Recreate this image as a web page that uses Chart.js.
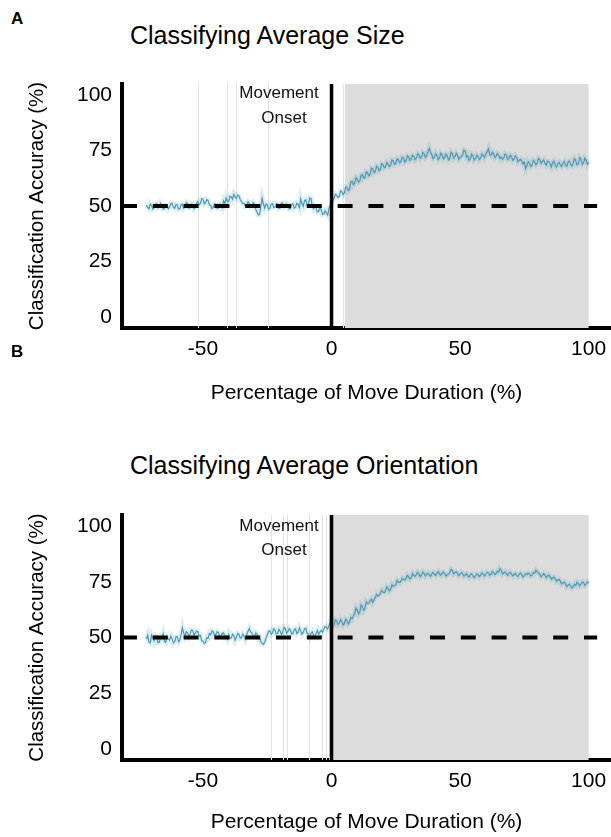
<!DOCTYPE html>
<html><head><meta charset="utf-8">
<script src="https://cdn.jsdelivr.net/npm/chart.js@4.4.1/dist/chart.umd.min.js"></script>
<style>
body{margin:0;background:#fff;width:611px;height:837px;position:relative;overflow:hidden;font-family:"Liberation Sans",Arial,sans-serif;color:#000;}
.letter{position:absolute;font-weight:bold;font-size:17px;line-height:18px;}
.title{position:absolute;font-size:25px;line-height:30px;white-space:nowrap;}
canvas{position:absolute;left:0;}
</style></head><body>
<div class="letter" style="left:11px;top:10px">A</div>
<div class="title" style="left:130px;top:20px">Classifying Average Size</div>
<canvas id="cA" width="611" height="420" style="top:0"></canvas>
<div class="letter" style="left:11px;top:343px">B</div>
<div class="title" style="left:130px;top:450px">Classifying Average Orientation</div>
<canvas id="cB" width="611" height="417" style="top:420px"></canvas>
<script>
// ---- data ----
const xStart = -72, xStep = 0.5; // time grid (% of move duration)
const sizeAccuracy = [
 50.5,49.3,48.8,50.9,50.2,48.6,49.1,50.8,51.0,49.2,49.4,51.3,50.6,48.7,48.9,50.4,50.3,48.8,49.6,51.1,
 51.2,49.4,49.0,50.7,50.4,48.5,48.7,50.6,50.9,49.0,49.8,51.6,51.3,49.1,49.2,50.9,50.7,48.8,49.5,51.2,
 52.0,50.6,51.2,53.3,53.1,51.0,51.6,52.9,52.4,50.5,50.2,48.9,49.4,51.0,50.8,49.0,49.1,50.9,50.5,49.3,
 52.3,51.1,53.6,52.0,52.1,54.4,54.2,53.0,55.3,54.1,53.4,55.0,54.6,52.8,52.0,51.1,51.2,50.0,50.4,51.9,
 51.3,49.6,49.8,51.5,50.9,48.6,47.2,46.0,46.1,49.8,53.5,51.0,49.0,50.9,50.6,48.7,48.9,50.8,51.1,49.4,
 49.5,51.0,50.8,48.9,49.2,51.3,51.4,49.5,49.8,51.0,50.3,48.6,48.8,50.7,50.9,49.0,49.6,51.2,50.7,49.3,
 53.2,51.0,49.9,52.4,52.8,50.2,50.6,53.6,53.4,50.1,48.7,49.8,49.2,47.3,47.6,49.0,48.3,46.2,46.4,47.9,
 46.8,45.9,48.9,50.2,51.0,
 52.4,53.6,55.3,54.8,53.9,54.2,56.8,56.5,55.1,55.9,58.6,58.3,56.9,57.6,60.8,61.2,59.6,60.4,62.7,62.0,
 60.8,61.3,63.9,64.1,62.5,62.8,65.4,65.0,63.6,64.2,67.1,66.8,65.0,65.6,67.9,67.4,65.9,66.5,69.0,68.6,
 67.2,67.7,69.6,69.0,67.8,68.4,70.8,70.3,68.7,69.2,71.3,70.9,69.5,70.1,72.0,71.5,69.8,70.4,72.6,72.1,
 70.6,71.2,72.9,72.4,70.9,71.6,73.6,73.0,71.5,72.2,74.1,73.5,71.9,72.6,74.3,76.0,74.2,73.1,71.4,72.0,
 73.6,72.8,71.0,71.7,73.8,73.2,71.2,71.9,73.4,72.6,70.8,71.4,74.2,73.5,71.6,72.3,73.8,72.9,71.1,71.8,
 72.4,73.0,75.2,74.8,72.0,72.5,70.6,71.2,73.3,72.6,70.7,71.4,72.9,72.3,70.9,71.7,73.5,72.8,71.8,73.4,
 74.4,75.8,73.2,72.7,74.3,73.6,71.8,72.4,73.7,73.0,71.4,72.1,71.0,71.7,73.4,72.8,70.9,71.5,72.9,72.2,
 70.6,71.3,72.6,71.9,69.9,70.6,71.0,70.2,68.9,69.8,66.9,68.1,70.0,69.2,67.8,68.6,70.6,70.0,68.5,69.4,
 71.4,70.8,69.2,70.1,70.7,69.3,68.4,70.2,70.0,68.9,67.6,69.6,70.2,68.2,67.5,69.0,69.7,68.4,67.8,69.3,
 70.1,68.5,67.9,69.8,70.3,68.7,68.1,69.5,71.3,70.4,68.6,69.0,71.8,71.2,68.8,69.4,71.5,70.6,68.9,69.8
];
const orientAccuracy = [
 49.2,51.0,48.0,47.6,51.1,49.9,48.6,50.8,50.3,47.7,47.9,50.2,49.6,51.6,48.4,47.9,50.1,49.4,48.8,50.6,
 49.5,47.6,48.2,50.3,50.4,48.1,49.0,51.2,54.3,51.9,50.6,52.6,52.1,50.4,51.5,53.4,53.2,51.1,51.8,52.9,
 52.6,50.7,50.9,48.6,48.3,47.4,47.8,49.9,49.6,51.8,51.2,52.9,52.5,50.8,51.4,52.6,52.2,50.4,50.8,51.9,
 52.0,50.2,50.6,49.3,51.3,49.5,49.8,51.4,50.9,48.9,50.2,51.8,51.4,49.6,50.0,51.5,50.7,49.2,51.2,52.8,
 54.0,52.5,52.2,50.4,50.5,52.0,51.3,49.6,50.1,48.2,47.4,46.9,47.9,49.6,51.2,52.7,53.0,51.5,52.1,53.9,
 53.4,51.6,51.8,53.7,52.9,51.4,52.2,54.6,54.1,52.0,52.6,54.0,53.3,51.5,51.9,53.6,53.8,51.8,52.4,54.3,
 53.0,51.5,52.3,53.9,54.2,52.0,51.6,50.4,51.8,52.6,50.9,50.3,52.0,53.1,51.4,52.5,53.2,52.4,53.8,54.9,
 54.6,53.8,55.3,56.9,56.2,
 55.0,55.7,57.9,57.4,55.8,56.5,58.0,57.2,55.6,56.3,58.2,57.6,56.1,56.9,59.0,58.4,59.8,60.6,63.2,62.3,
 60.6,61.5,64.6,63.8,62.2,63.1,66.0,65.2,65.4,66.6,67.2,65.8,66.9,67.9,69.3,68.6,68.9,69.8,71.1,70.4,
 70.1,70.9,72.8,72.1,70.9,71.6,73.7,73.0,73.2,73.8,75.6,74.9,74.7,75.4,76.6,76.0,75.8,76.5,77.9,77.2,
 76.3,77.0,78.6,77.8,77.4,78.2,79.3,78.6,77.3,78.1,79.4,78.8,77.6,78.3,78.9,78.0,77.5,78.7,79.2,78.4,
 77.8,78.9,79.6,78.5,77.9,79.0,79.4,78.6,77.6,78.2,78.5,79.1,80.6,80.0,78.6,79.2,79.5,78.8,77.7,78.3,
 79.2,78.6,77.6,78.1,78.7,77.8,77.1,78.3,78.5,77.7,76.9,77.5,78.6,78.2,77.3,78.0,79.0,78.6,77.6,78.4,
 79.3,78.9,77.9,78.5,79.6,79.1,78.2,78.7,79.8,79.4,80.9,80.3,78.5,79.0,79.5,78.6,77.9,78.9,79.3,78.4,
 77.7,78.3,78.8,77.9,77.4,78.4,78.9,78.1,77.2,77.8,78.6,78.2,78.9,78.5,77.6,78.0,79.2,78.9,80.2,79.6,
 78.8,78.4,77.3,77.9,78.7,78.1,76.9,77.6,78.0,77.3,76.2,76.8,77.1,76.4,75.3,75.8,76.1,75.2,74.0,74.6,
 74.9,74.0,72.8,73.5,74.0,73.1,72.2,72.8,73.9,73.4,74.8,74.2,73.2,73.9,74.9,74.6,73.5,74.1,75.0,74.5
];
const xTicks = [-50, 0, 50, 100];
const yTicks = [0, 25, 50, 75, 100];
const chanceLevel = 50;
const chanceSpan = [-81.5, 103.3];
const onsetTime = 0;
const sizeSigLines = [-52, -40.5, -37, -24.7, 4.3];
const orientSigLines = [-23.6, -19, -17.4, -8.7, -3.6, -2, -0.8];
const sizeShade = [5.2, 100];
const orientShade = [0, 100];
const xRange = [-81.5, 108.7];
const yRange = [-5, 105];

// ---- drawing ----
Chart.defaults.font.family = '"Liberation Sans", Arial, sans-serif';
Chart.defaults.color = '#000';
const LINE = '#4a9ab4';

function toPoints(vals){ return vals.map((v,i)=>({x: xStart + i*xStep, y: v})); }

function overlay(sig, shade, txtDy){
  return {
    id: 'overlay',
    beforeDatasetsDraw(chart){
      const {ctx, chartArea: a, scales: {x}} = chart;
      ctx.save();
      const x0 = x.getPixelForValue(shade[0]), x1 = x.getPixelForValue(shade[1]);
      ctx.fillStyle = '#dcdcdc';
      ctx.fillRect(x0, a.top, x1 - x0, a.bottom - a.top);
      ctx.strokeStyle = '#e2e2e2'; ctx.lineWidth = 1;
      sig.forEach(v => {
        const p = Math.round(x.getPixelForValue(v)) + 0.5;
        ctx.beginPath(); ctx.moveTo(p, a.top); ctx.lineTo(p, a.bottom); ctx.stroke();
      });
      ctx.restore();
    },
    afterDatasetsDraw(chart){
      const {ctx, chartArea: a, scales: {x}} = chart;
      const p = x.getPixelForValue(onsetTime);
      ctx.save();
      ctx.strokeStyle = '#000'; ctx.lineWidth = 3.5;
      ctx.beginPath(); ctx.moveTo(p, a.top); ctx.lineTo(p, a.bottom); ctx.stroke();
      ctx.fillStyle = '#111';
      ctx.font = '17px "Liberation Sans", Arial, sans-serif';
      ctx.textAlign = 'center'; ctx.textBaseline = 'middle';
      ctx.fillText('Movement', p - 52.5, a.top + txtDy[0]);
      ctx.fillText('Onset', p - 47.5, a.top + txtDy[1]);
      ctx.restore();
    }
  };
}

function makeChart(id, vals, sig, shade, top, bottom, H, xTitlePad, txtDy){
  const pts = toPoints(vals);
  return new Chart(document.getElementById(id), {
    type: 'line',
    data: { datasets: [
      { data: [{x: chanceSpan[0], y: chanceLevel}, {x: chanceSpan[1], y: chanceLevel}],
        borderColor: '#000', borderWidth: 4, borderDash: [15, 15.8], pointRadius: 0, fill: false },
      { data: pts, borderColor: LINE, borderWidth: 1.2, pointRadius: 0, tension: 0, fill: false },
      { data: pts, borderColor: 'rgba(74,154,180,0.18)', borderWidth: 5, pointRadius: 0, tension: 0, fill: false }
    ]},
    options: {
      responsive: false, animation: false, devicePixelRatio: 1,
      layout: { padding: { top: top, left: 0, right: 0, bottom: 0 } },
      plugins: { legend: { display: false }, tooltip: { enabled: false }, title: { display: false } },
      scales: {
        x: {
          type: 'linear', min: xRange[0], max: xRange[1],
          grid: { display: false, drawTicks: false },
          border: { display: true, color: '#000', width: 4 },
          afterBuildTicks: s => { s.ticks = xTicks.map(v => ({value: v})); },
          afterFit: s => { s.height = H - bottom; s.paddingLeft = 0; s.paddingRight = 0; },
          ticks: { font: { size: 21 }, padding: 8.4, color: '#000', maxRotation: 0, autoSkip: false, callback: v => String(v) },
          title: { display: true, text: 'Percentage of Move Duration (%)', font: { size: 21 }, color: '#000', padding: { top: 0, bottom: xTitlePad } }
        },
        y: {
          type: 'linear', min: yRange[0], max: yRange[1],
          grid: { display: false, drawTicks: false },
          border: { display: true, color: '#000', width: 4 },
          afterBuildTicks: s => { s.ticks = yTicks.map(v => ({value: v})); },
          afterFit: s => { s.width = 122; s.paddingTop = 0; s.paddingBottom = 0; },
          ticks: { font: { size: 21 }, padding: 10, color: '#000', autoSkip: false, callback: v => String(v) },
          title: { display: true, text: 'Classification Accuracy (%)', font: { size: 20.5 }, color: '#000', padding: { top: 24.7, bottom: 0 } }
        }
      }
    },
    plugins: [overlay(sig, shade, txtDy)]
  });
}

makeChart('cA', sizeAccuracy, sizeSigLines, sizeShade, 84, 328, 420, 14.4, [9, 34]);
makeChart('cB', orientAccuracy, orientSigLines, orientShade, 95, 340, 417, 2.4, [11, 35]);
</script>
</body></html>
